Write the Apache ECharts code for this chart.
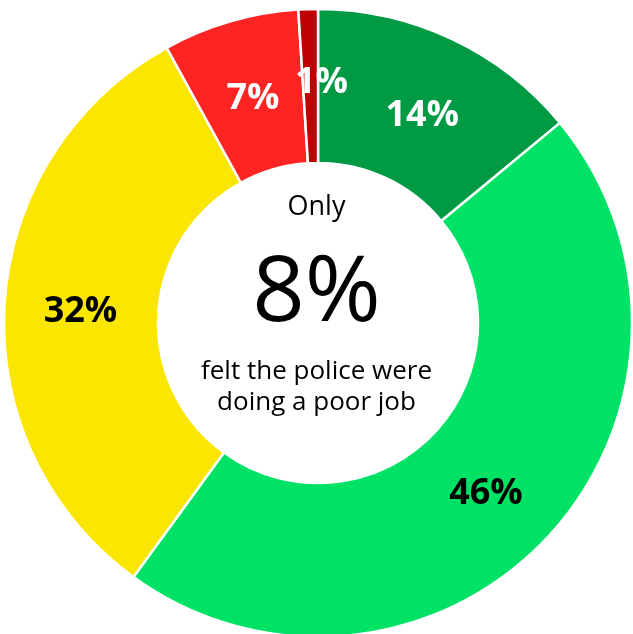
<!DOCTYPE html>
<html>
<head>
<meta charset="utf-8">
<script src="https://cdn.jsdelivr.net/npm/echarts@6/dist/echarts.min.js"></script>
<style>
html,body{margin:0;padding:0;background:#fff;}
#chart{width:633px;height:634px;}
</style>
</head>
<body>
<div id="chart"></div>
<script>
var categories = ["Very good", "Good", "Fair", "Poor", "Very poor"];
var values = [14, 46, 32, 7, 1];
var colors = ["#009A44", "#00E266", "#FAE600", "#FF2424", "#C00000"];
var labelColors = ["#ffffff", "#000000", "#000000", "#ffffff", "#ffffff"];
var centerLines = ["Only", "8%", "felt the police were", "doing a poor job"];

var labelShift = [[2, 10], [-7, 6], [2, 4], [2, 6], [11, 0]];

var chart = echarts.init(document.getElementById('chart'));
var data = categories.map(function (c, i) {
  return {
    name: c,
    value: values[i],
    itemStyle: { color: colors[i] },
    label: { color: labelColors[i], offset: labelShift[i] }
  };
});
chart.setOption({
  animation: false,
  series: [{
    type: 'pie',
    center: [318, 323],
    radius: [160, 314],
    startAngle: 90,
    clockwise: true,
    avoidLabelOverlap: false,
    itemStyle: { borderColor: '#ffffff', borderWidth: 2.5 },
    label: {
      show: true,
      position: 'inside',
      formatter: '{c}%',
      fontFamily: 'Open Sans',
      fontWeight: 'bold',
      fontSize: 36
    },
    labelLine: { show: false },
    emphasis: { disabled: true },
    data: data
  }],
  graphic: [
    { type: 'text', left: 'center', top: 194, style: { text: centerLines[0], font: '27px "Open Sans"', fill: '#000', textAlign: 'center' } },
    { type: 'text', left: 'center', top: 249, style: { text: centerLines[1], font: '92px "Open Sans"', fill: '#000', textAlign: 'center' } },
    { type: 'text', left: 'center', top: 359, style: { text: centerLines[2], font: '26px "Open Sans"', fill: '#000', textAlign: 'center' } },
    { type: 'text', left: 'center', top: 390, style: { text: centerLines[3], font: '26px "Open Sans"', fill: '#000', textAlign: 'center' } }
  ]
});
</script>
</body>
</html>
